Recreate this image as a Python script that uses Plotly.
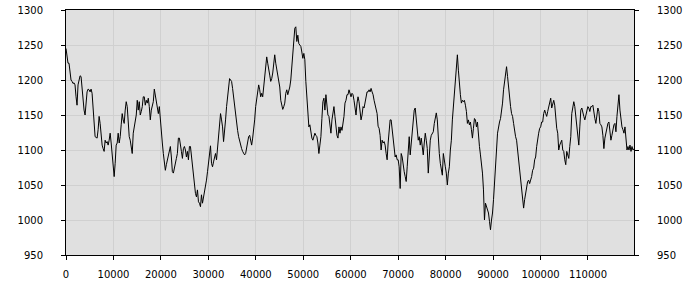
import numpy as np
import plotly.graph_objects as go

# Series values, left to right (roughly one sample per pixel)
seg1 = [1245, 1233, 1224, 1224, 1210, 1200, 1198, 1195, 1196, 1193,
        1176, 1164, 1193, 1200, 1206, 1205, 1190, 1167, 1157, 1150,
        1167, 1183, 1187, 1186, 1183, 1187, 1181, 1157, 1138, 1119,
        1118, 1117, 1129, 1148, 1138, 1114, 1107, 1102, 1098, 1114,
        1110, 1112, 1107, 1114, 1124, 1110, 1090, 1067, 1062, 1081,
        1107, 1110, 1124, 1110, 1119, 1136, 1152, 1143, 1138, 1157,
        1169, 1162, 1138, 1119, 1114, 1107, 1095, 1124, 1133, 1138,
        1150, 1171, 1157, 1169, 1150, 1155, 1162, 1176, 1176, 1164,
        1171, 1167, 1174, 1162, 1143, 1157, 1164, 1169, 1187, 1179,
        1167, 1164, 1152, 1162, 1148, 1129, 1110, 1095, 1081, 1071,
        1079, 1086, 1090, 1102, 1105, 1090, 1069, 1067, 1076, 1083,
        1088, 1095]
seg2 = [1117, 1117, 1110, 1098, 1088, 1102, 1105, 1100, 1090, 1098,
        1086, 1105, 1105, 1090, 1076, 1057, 1048, 1038, 1033, 1043,
        1026, 1024, 1019, 1036, 1024, 1031, 1040, 1045, 1057, 1069,
        1081, 1095, 1106, 1081, 1076, 1083, 1090, 1095, 1086, 1105,
        1124, 1138, 1152, 1143, 1133, 1112, 1124, 1143, 1162, 1179,
        1186, 1202, 1200, 1198, 1188, 1176, 1157, 1143, 1133, 1128,
        1119, 1112, 1110, 1102, 1098, 1095, 1093, 1095, 1102, 1114,
        1119, 1121, 1110, 1107, 1117, 1128, 1143, 1162, 1171, 1183,
        1193, 1186, 1176, 1181, 1176, 1190, 1205, 1229, 1233, 1224,
        1212, 1207, 1198, 1202, 1210, 1224, 1236, 1224, 1214, 1207,
        1200, 1190, 1171, 1162, 1158, 1162, 1167, 1181, 1186, 1179,
        1183, 1190, 1200]
seg3 = [1217, 1240, 1257, 1274, 1276, 1255, 1264, 1252, 1250, 1248,
        1240, 1231, 1238, 1229, 1198, 1176, 1150, 1133, 1136, 1121,
        1117, 1114, 1121, 1124, 1121, 1119, 1110, 1095, 1107, 1119,
        1145, 1169, 1174, 1157, 1179, 1167, 1150, 1148, 1133, 1124,
        1143, 1157, 1162, 1148, 1133, 1121, 1117, 1133, 1124, 1133,
        1128, 1138, 1148, 1167, 1171, 1179, 1179, 1186, 1181, 1176,
        1181, 1179, 1171, 1162, 1150, 1167, 1176, 1169, 1157, 1143,
        1150, 1162, 1160, 1167, 1176, 1183, 1183, 1186, 1183, 1188,
        1183, 1179, 1171, 1164, 1162, 1152, 1134, 1131, 1121, 1100,
        1114, 1110, 1112, 1107, 1095, 1086, 1110, 1126, 1143, 1143,
        1128, 1114, 1102, 1090, 1093, 1086, 1086, 1076, 1045, 1095,
        1090, 1076, 1069, 1062]
seg4 = [1055, 1076, 1100, 1119, 1093, 1110, 1131, 1138, 1157, 1160,
        1140, 1126, 1114, 1119, 1107, 1117, 1100, 1093, 1110, 1124,
        1114, 1102, 1067, 1100, 1114, 1121, 1124, 1126, 1138, 1148,
        1153, 1143, 1114, 1095, 1081, 1074, 1064, 1095, 1081, 1076,
        1067, 1050, 1067, 1076, 1100, 1114, 1143, 1162, 1186, 1205,
        1224, 1236, 1214, 1190, 1179, 1167, 1171, 1169, 1171, 1164,
        1155, 1138, 1143, 1136, 1140, 1129, 1117, 1131, 1145, 1143,
        1133, 1140, 1114, 1105, 1093, 1083, 1067, 1043, 1000, 1024,
        1019, 1012, 1010, 998, 986, 1000, 1010, 1029, 1048, 1076,
        1100, 1124, 1136, 1140, 1145, 1155, 1167, 1186, 1200, 1210,
        1219, 1205, 1186, 1176, 1162, 1152, 1148, 1138, 1124, 1119,
        1114, 1100, 1086, 1071]
seg5 = [1057, 1036, 1024, 1017, 1029, 1038, 1043, 1055, 1057, 1052,
        1057, 1062, 1071, 1074, 1086, 1090, 1105, 1117, 1124, 1131,
        1133, 1140, 1140, 1152, 1157, 1152, 1148, 1155, 1162, 1167,
        1174, 1160, 1167, 1171, 1164, 1143, 1131, 1124, 1100, 1107,
        1112, 1114, 1100, 1098, 1086, 1079, 1098, 1093, 1088, 1105,
        1119, 1152, 1160, 1169, 1162, 1148, 1131, 1114, 1107, 1133,
        1157, 1160, 1152, 1148, 1143, 1150, 1155, 1162, 1160, 1155,
        1162, 1162, 1164, 1150, 1145, 1138, 1148, 1160, 1155, 1138,
        1136, 1133, 1121, 1102, 1117, 1124, 1136, 1138, 1140, 1129,
        1114, 1121, 1129, 1136, 1138, 1126, 1148, 1167, 1179, 1157,
        1140, 1133, 1129, 1124, 1133, 1121, 1100, 1105, 1100, 1107,
        1098, 1105, 1100, 1102]

values = seg1 + seg2 + seg3 + seg4 + seg5
X_FIRST, X_LAST = 0, 119700
x_ticks = [0, 10000, 20000, 30000, 40000, 50000, 60000, 70000, 80000, 90000, 100000, 110000]
y_ticks = [950, 1000, 1050, 1100, 1150, 1200, 1250, 1300]

xs = np.linspace(X_FIRST, X_LAST, len(values))

font = dict(family="DejaVu Sans", size=10, color="#000000")

fig = go.Figure()
fig.add_trace(go.Scatter(x=xs, y=values, mode="lines",
                         line=dict(color="#000000", width=1), showlegend=False,
                         hoverinfo="skip"))

fig.update_layout(
    width=700, height=300,
    margin=dict(l=66, r=66, t=10, b=45, autoexpand=False),
    paper_bgcolor="#ffffff",
    plot_bgcolor="#e0e0e0",
    font=font,
    showlegend=False,
    xaxis=dict(range=[X_FIRST, X_LAST], tickvals=x_ticks, ticktext=[str(v) for v in x_ticks],
               showgrid=True, gridcolor="#d0d0d0", gridwidth=1, zeroline=False,
               showline=True, linecolor="#000000", linewidth=1, mirror=True,
               ticks="outside", ticklen=4, tickcolor="#000000", tickfont=font,
               ticklabelstandoff=6, automargin=False),
    yaxis=dict(range=[950, 1300], tickvals=y_ticks, ticktext=[str(v) for v in y_ticks],
               showgrid=True, gridcolor="#d0d0d0", gridwidth=1, zeroline=False,
               showline=True, linecolor="#000000", linewidth=1, mirror=True,
               ticks="outside", ticklen=4, tickcolor="#000000", tickfont=font,
               ticklabelstandoff=16, automargin=False),
    yaxis2=dict(range=[950, 1300], tickvals=y_ticks, ticktext=[str(v) for v in y_ticks],
                overlaying="y", side="right", showgrid=False, zeroline=False,
                showline=False, ticks="outside", ticklen=4, tickcolor="#000000",
                tickfont=font, ticklabelstandoff=16, automargin=False),
)
fig.add_trace(go.Scatter(x=[None], y=[None], yaxis="y2", showlegend=False, hoverinfo="skip"))

fig.write_html("out.html")
